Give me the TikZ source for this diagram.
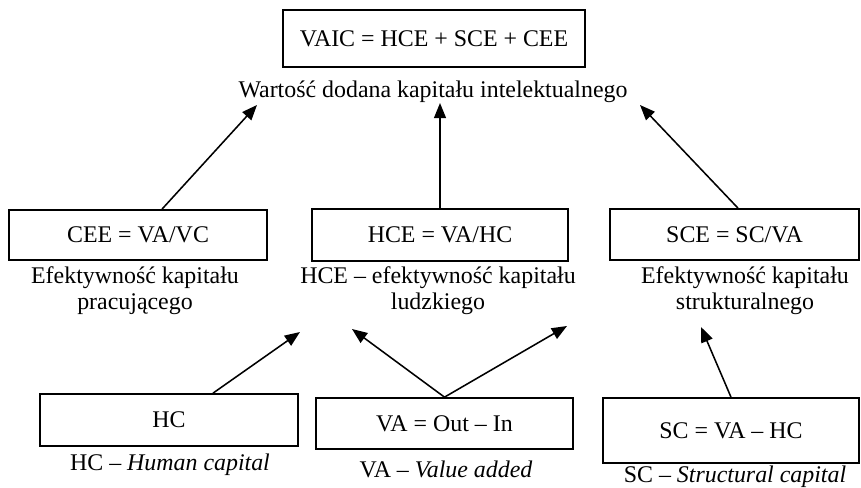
\documentclass[tikz,border=0pt]{standalone}
\usepackage{fontspec}
\setmainfont{Liberation Serif}
\usetikzlibrary{positioning}
\usetikzlibrary {arrows.meta}

\begin{document}
\begin{tikzpicture}[
    formbox/.style={rectangle, draw=black, line width=1.2pt, minimum width=6.4cm, minimum height=1.3cm, font=\fontsize{17}{20}\selectfont},
    desc/.style={align=center, font=\fontsize{17}{18.5}\selectfont, inner sep=0pt},
    arr/.style={line width=1.1pt, -{Triangle[length=0.38cm, width=0.3cm]}}
]
    \useasboundingbox (0, 0) rectangle (21.525, 12.175);
    % VAIC
    % - [Top: the index]
    \node at (10.85, 11.2125) [formbox, minimum width=7.55cm, minimum height=1.425cm](vaic){VAIC = HCE + SCE + CEE};
    \node at (10.825, 9.875) [desc](vaic_lbl){Wartość dodana kapitału intelektualnego};
    % -- Arrow tips under the label
    \coordinate (tip_l) at (6.425, 9.55);
    \coordinate (tip_m) at (11.0, 9.6);
    \coordinate (tip_r) at (16.0, 9.55);

    % Efficiencies
    % - [Middle: CEE, HCE, SCE]
    \node at (3.45, 6.3) [formbox, minimum width=6.45cm, minimum height=1.25cm](cee){CEE = VA/VC};
    \node at (11.0, 6.3) [formbox](hce){HCE = VA/HC};
    \node at (18.3625, 6.3125) [formbox, minimum width=6.225cm, minimum height=1.275cm](sce){SCE = SC/VA};
    \node at (3.375, 4.9) [desc](cee_lbl){Efektywność kapitału\\pracującego};
    \node at (10.95, 4.9) [desc](hce_lbl){HCE -- efektywność kapitału\\ludzkiego};
    \node at (18.625, 4.9) [desc](sce_lbl){Efektywność kapitału\\strukturalnego};
    % -- Arrows up to the index
    \draw [arr] (cee.north -| 4.05, 0) -- (tip_l);
    \draw [arr] (hce.north) -- (tip_m);
    \draw [arr] (sce.north -| 18.45, 0) -- (tip_r);
    % -- Arrow tips under the labels
    \coordinate (tip_hc) at (7.5, 3.875);
    \coordinate (tip_val) at (8.8, 3.95);
    \coordinate (tip_var) at (14.175, 4.025);
    \coordinate (tip_sc) at (17.525, 4.0);

    % Components
    % - [Bottom: HC, VA, SC]
    \node at (4.225, 1.675) [formbox, minimum width=6.45cm](hc){HC};
    \node at (11.1125, 1.5875) [formbox, minimum width=6.425cm, minimum height=1.275cm](va){VA = Out -- In};
    \node at (18.275, 1.4125) [formbox, minimum height=1.625cm](sc){SC = VA -- HC};
    \node at (4.25, 0.55) [desc](hc_lbl){HC -- \textit{Human capital}};
    \node at (11.15, 0.45) [desc](va_lbl){VA -- \textit{Value added}};
    \node at (18.375, 0.25) [desc](sc_lbl){SC -- \textit{Structural capital}};
    % -- Arrows up to the efficiencies
    \draw [arr] (hc.north -| 5.325, 0) -- (tip_hc);
    \draw [arr] (va.north) -- (tip_val);
    \draw [arr] (va.north) -- (tip_var);
    \draw [arr] (sc.north) -- (tip_sc);

\end{tikzpicture}
\end{document}
